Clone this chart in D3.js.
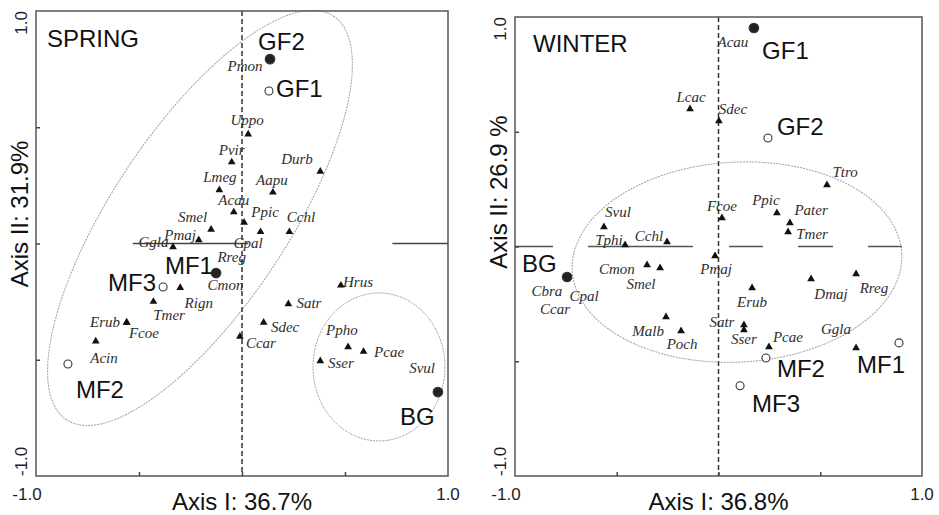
<!DOCTYPE html>
<html>
<head>
<meta charset="utf-8">
<script src="https://cdn.jsdelivr.net/npm/d3@7/dist/d3.min.js"></script>
<style>
  html, body { margin: 0; padding: 0; background: #fff; }
  svg { display: block; }
</style>
</head>
<body>
<svg id="chart" width="939" height="515"></svg>
<script>
// ---------------- DATA ----------------
const panelTitles = ["SPRING", "WINTER"];
const xAxisTitles = ["Axis I: 36.7%", "Axis I: 36.8%"];
const yAxisTitles = ["Axis II: 31.9%", "Axis II: 26.9 %"];
const tickValues = [-0.5, 0, 0.5];
const endTickLabels = ["-1.0", "1.0"];

// Spring: species (triangles)
const springSpecies = ["Uppo","Pvir","Durb","Pmon","Lmeg","Aapu","Acau","Cpal","Ppic","Cchl","Smel","Pmaj","Ggla","Rreg","Cmon","Rign","Tmer","Erub","Acin","Fcoe","Hrus","Satr","Sdec","Ccar","Ppho","Pcae","Sser","Svul"];
const springSpX =    [0.03, -0.05, 0.38, 0.136, -0.11, 0.15, -0.04, 0.01, 0.09, 0.23, -0.15, -0.21, -0.335, -0.126, -0.126, -0.30, -0.43, -0.56, -0.71, -0.56, 0.48, 0.225, 0.105, -0.01, 0.515, 0.59, 0.38, 0.951];
const springSpY =    [0.47, 0.35, 0.31, 0.793, 0.23, 0.22, 0.135, 0.09, 0.05, 0.05, 0.06, 0.015, -0.015, -0.127, -0.127, -0.19, -0.25, -0.34, -0.42, -0.34, -0.18, -0.26, -0.34, -0.40, -0.445, -0.465, -0.505, -0.639];
const springLabX =   [0.025, -0.05, 0.267, 0.015, -0.107, 0.145, -0.04, 0.03, 0.112, 0.286, -0.24, -0.30, -0.43, -0.05, -0.08, -0.21, -0.354, -0.665, -0.67, -0.476, 0.563, 0.325, 0.209, 0.092, 0.485, 0.714, 0.48, 0.874];
const springLabY =   [0.51, 0.38, 0.34, 0.74, 0.265, 0.252, 0.166, -0.02, 0.114, 0.092, 0.092, 0.015, -0.015, -0.08, -0.20, -0.277, -0.33, -0.36, -0.514, -0.406, -0.187, -0.277, -0.38, -0.45, -0.394, -0.488, -0.535, -0.557];

// Spring: sites
const springSites = ["GF2","GF1","MF1","MF3","MF2","BG"];
const springSiteX = [0.136, 0.131, -0.126, -0.383, -0.845, 0.951];
const springSiteY = [0.793, 0.656, -0.127, -0.187, -0.518, -0.639];
const springSiteFilled = [true, false, true, false, false, true];
const springSiteLabX = [0.078, 0.165, -0.374, -0.65, -0.806, 0.767];
const springSiteLabY = [0.832, 0.630, -0.131, -0.204, -0.665, -0.781];

// Winter: species
const winterSpecies = ["Acau","Lcac","Sdec","Ttro","Fcoe","Ppic","Pater","Tmer","Pmaj","Dmaj","Rreg","Erub","Satr","Sser","Pcae","Ggla","Svul","Tphi","Cchl","Cmon","Smel","Cbra","Cpal","Ccar","Malb","Poch"];
const winterSpX =  [0.174, -0.14, 0.002, 0.533, 0.017, 0.287, 0.351, 0.342, -0.017, 0.455, 0.676, 0.165, 0.125, 0.125, 0.248, 0.676, -0.563, -0.459, -0.253, -0.351, -0.287, -0.744, -0.744, -0.744, -0.258, -0.184];
const winterSpY =  [0.952, 0.599, 0.547, 0.268, 0.124, 0.146, 0.102, 0.063, -0.041, -0.142, -0.12, -0.181, -0.342, -0.364, -0.438, -0.442, 0.085, 0.007, 0.02, -0.081, -0.094, -0.133, -0.133, -0.133, -0.307, -0.368];
const winterLabX = [0.071, -0.135, 0.071, 0.622, 0.017, 0.233, 0.455, 0.46, -0.012, 0.553, 0.764, 0.165, 0.017, 0.125, 0.341, 0.577, -0.494, -0.538, -0.342, -0.499, -0.381, -0.843, -0.661, -0.803, -0.346, -0.179];
const winterLabY = [0.869, 0.63, 0.577, 0.303, 0.155, 0.181, 0.137, 0.033, -0.12, -0.229, -0.203, -0.264, -0.351, -0.425, -0.416, -0.381, 0.129, 0.007, 0.024, -0.12, -0.185, -0.216, -0.237, -0.294, -0.39, -0.447];

// Winter: sites
const winterSites = ["GF1","GF2","BG","MF1","MF2","MF3"];
const winterSiteX = [0.174, 0.243, -0.744, 0.887, 0.233, 0.106];
const winterSiteY = [0.952, 0.473, -0.133, -0.42, -0.486, -0.607];
const winterSiteFilled = [true, false, true, false, false, false];
const winterSiteLabX = [0.214, 0.287, -0.966, 0.681, 0.287, 0.165];
const winterSiteLabY = [0.817, 0.486, -0.111, -0.551, -0.569, -0.721];

// Group ellipses (centres in axis units)
const springEllipseCX = [-0.204, 0.665];
const springEllipseCY = [0.11, -0.531];
const winterEllipseCX = [0.091];
const winterEllipseCY = [-0.068];

// Horizontal reference line pieces (axis units)
const springHLine = [[-0.53, 0.03], [0.73, 1.0]];

// ---------------- LAYOUT ----------------
const svg = d3.select("#chart");
const panels = [
  {
    title: panelTitles[0], xTitle: xAxisTitles[0], yTitle: yAxisTitles[0],
    xr: [36, 448], yr: [476, 11],
    species: springSpecies.map((n, i) => ({n, x: springSpX[i], y: springSpY[i], lx: springLabX[i], ly: springLabY[i]})),
    sites: springSites.map((n, i) => ({n, x: springSiteX[i], y: springSiteY[i], f: springSiteFilled[i], lx: springSiteLabX[i], ly: springSiteLabY[i]})),
    ellipses: [
      {cx: springEllipseCX[0], cy: springEllipseCY[0], rx: 242, ry: 88, rot: -56.5},
      {cx: springEllipseCX[1], cy: springEllipseCY[1], rx: 66, ry: 74, rot: 0}
    ],
    titlePos: [47, 47], yTitleX: 28, yTitleY: 214,
    hline: "segments"
  },
  {
    title: panelTitles[1], xTitle: xAxisTitles[1], yTitle: yAxisTitles[1],
    xr: [515, 922], yr: [476, 17],
    species: winterSpecies.map((n, i) => ({n, x: winterSpX[i], y: winterSpY[i], lx: winterLabX[i], ly: winterLabY[i]})),
    sites: winterSites.map((n, i) => ({n, x: winterSiteX[i], y: winterSiteY[i], f: winterSiteFilled[i], lx: winterSiteLabX[i], ly: winterSiteLabY[i]})),
    ellipses: [
      {cx: winterEllipseCX[0], cy: winterEllipseCY[0], rx: 165, ry: 100, rot: -3}
    ],
    titlePos: [533, 52], yTitleX: 507, yTitleY: 192,
    hline: "dashed"
  }
];

const tri = d3.symbol().type(d3.symbolTriangle).size(26);

panels.forEach((p, pi) => {
  const x = d3.scaleLinear().domain([-1, 1]).range(p.xr);
  const y = d3.scaleLinear().domain([-1, 1]).range(p.yr);
  const g = svg.append("g");

  // ellipses
  p.ellipses.forEach(e => {
    g.append("ellipse")
      .attr("cx", 0).attr("cy", 0).attr("rx", e.rx).attr("ry", e.ry)
      .attr("transform", `translate(${x(e.cx)},${y(e.cy)}) rotate(${e.rot})`)
      .attr("fill", "none").attr("stroke", "#a0a0a0").attr("stroke-width", 1)
      .attr("stroke-dasharray", "2,1");
  });

  // horizontal reference line
  if (p.hline === "segments") {
    springHLine.forEach(s => {
      g.append("line").attr("x1", x(s[0])).attr("x2", x(s[1]))
        .attr("y1", y(0)).attr("y2", y(0))
        .attr("stroke", "#444").attr("stroke-width", 1.5);
    });
  } else {
    g.append("line").attr("x1", x(-1)).attr("x2", x(1))
      .attr("y1", y(0)).attr("y2", y(0))
      .attr("stroke", "#555").attr("stroke-width", 1.5)
      .attr("stroke-dasharray", "38,35,105,36,34,35,35,35,34,100");
  }

  // vertical dashed line at x=0
  g.append("line").attr("x1", x(0)).attr("x2", x(0))
    .attr("y1", y(1)).attr("y2", y(-1))
    .attr("stroke", "#333").attr("stroke-width", 1.5)
    .attr("stroke-dasharray", "5,3");

  // frame
  g.append("rect").attr("x", p.xr[0]).attr("y", p.yr[1])
    .attr("width", p.xr[1] - p.xr[0]).attr("height", p.yr[0] - p.yr[1])
    .attr("fill", "none").attr("stroke", "#555").attr("stroke-width", 1.5);

  // axes ticks (inside)
  const xAx = d3.axisTop(x).tickValues(tickValues).tickSize(4).tickFormat("");
  g.append("g").attr("transform", `translate(0,${p.yr[0]})`).call(xAx)
    .call(a => a.select(".domain").remove())
    .selectAll("line").attr("stroke", "#444").attr("stroke-width", 1.5);
  const yAx = d3.axisRight(y).tickValues(tickValues).tickSize(4).tickFormat("");
  g.append("g").attr("transform", `translate(${p.xr[0]},0)`).call(yAx)
    .call(a => a.select(".domain").remove())
    .selectAll("line").attr("stroke", "#444").attr("stroke-width", 1.5);

  // tick labels
  const tf = "'Liberation Sans', Arial, sans-serif";
  g.append("text").attr("x", x(-1) - 9).attr("y", 500).attr("text-anchor", "middle")
    .attr("font-family", tf).attr("font-size", 17).attr("fill", "#222").text(endTickLabels[0]);
  g.append("text").attr("x", x(1)).attr("y", 500).attr("text-anchor", "middle")
    .attr("font-family", tf).attr("font-size", 17).attr("fill", "#222").text(endTickLabels[1]);
  g.append("text").attr("transform", `translate(${p.xr[0] - 9},${y(1)}) rotate(-90)`)
    .attr("text-anchor", "end").attr("font-family", tf).attr("font-size", 17).attr("fill", "#222")
    .text(endTickLabels[1]);
  g.append("text").attr("transform", `translate(${p.xr[0] - 9},${y(-1)}) rotate(-90)`)
    .attr("text-anchor", "start").attr("font-family", tf).attr("font-size", 17).attr("fill", "#222")
    .text(endTickLabels[0]);

  // axis titles
  g.append("text").attr("x", x(0)).attr("y", 510).attr("text-anchor", "middle")
    .attr("font-family", tf).attr("font-size", 24).attr("fill", "#111").text(p.xTitle);
  g.append("text").attr("transform", `translate(${p.yTitleX},${p.yTitleY}) rotate(-90)`)
    .attr("text-anchor", "middle").attr("font-family", tf).attr("font-size", 24).attr("fill", "#111")
    .text(p.yTitle);

  // panel title
  g.append("text").attr("x", p.titlePos[0]).attr("y", p.titlePos[1])
    .attr("font-family", tf).attr("font-size", 24).attr("fill", "#111").text(p.title);

  // species triangles
  g.selectAll("path.sp").data(p.species).join("path").attr("class", "sp")
    .attr("d", tri).attr("transform", d => `translate(${x(d.x)},${y(d.y)})`)
    .attr("fill", "#111");

  // species labels
  g.selectAll("text.spl").data(p.species).join("text").attr("class", "spl")
    .attr("x", d => x(d.lx)).attr("y", d => y(d.ly))
    .attr("text-anchor", "middle")
    .attr("font-family", "'Liberation Serif', 'Times New Roman', serif")
    .attr("font-style", "italic").attr("font-size", 15).attr("fill", "#2e2e2e")
    .text(d => d.n);

  // sites
  g.selectAll("circle.site").data(p.sites).join("circle").attr("class", "site")
    .attr("cx", d => x(d.x)).attr("cy", d => y(d.y))
    .attr("r", d => d.f ? 4.8 : 4)
    .attr("fill", d => d.f ? "#222" : "#fff")
    .attr("stroke", "#333").attr("stroke-width", 1.1);

  g.selectAll("text.sitel").data(p.sites).join("text").attr("class", "sitel")
    .attr("x", d => x(d.lx)).attr("y", d => y(d.ly))
    .attr("font-family", tf).attr("font-size", 24).attr("fill", "#111")
    .text(d => d.n);
});
</script>
</body>
</html>
